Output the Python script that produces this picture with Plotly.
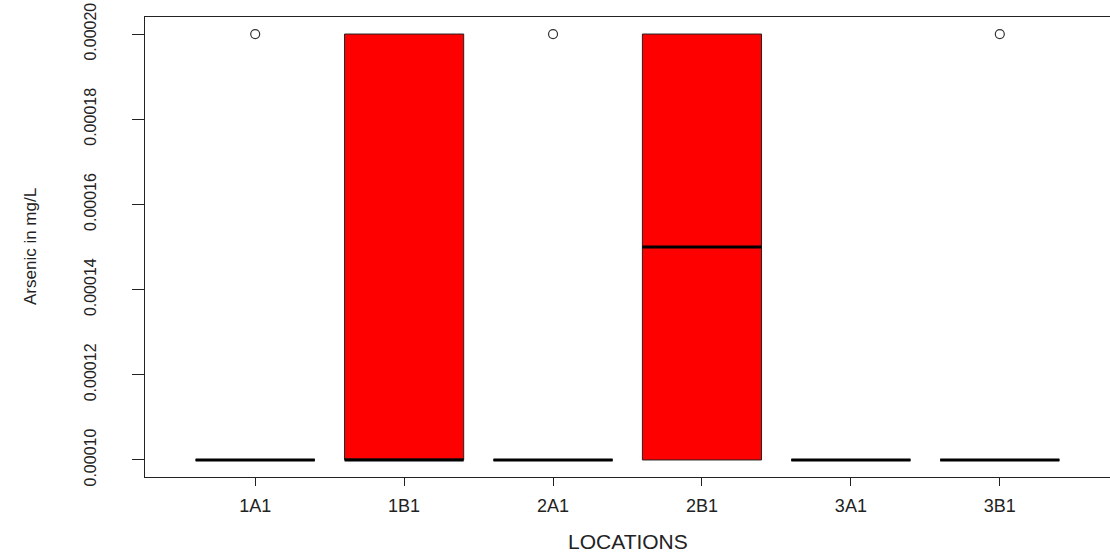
import plotly.graph_objects as go

locations = ["1A1", "1B1", "2A1", "2B1", "3A1", "3B1"]
q1 = [0.0001, 0.0001, 0.0001, 0.0001, 0.0001, 0.0001]
median = [0.0001, 0.0001, 0.0001, 0.00015, 0.0001, 0.0001]
q3 = [0.0001, 0.0002, 0.0001, 0.0002, 0.0001, 0.0001]
lower_whisker = [0.0001, 0.0001, 0.0001, 0.0001, 0.0001, 0.0001]
upper_whisker = [0.0001, 0.0002, 0.0001, 0.0002, 0.0001, 0.0001]
outlier_locations = ["1A1", "2A1", "3B1"]
outlier_values = [0.0002, 0.0002, 0.0002]
y_ticks = [0.00010, 0.00012, 0.00014, 0.00016, 0.00018, 0.00020]

pos = list(range(1, len(locations) + 1))
pos_of = {loc: p for loc, p in zip(locations, pos)}

FONT = "Liberation Sans, Arial, sans-serif"
INK = "#222222"

fig = go.Figure()

# Boxes (thin outline, red fill)
fig.add_trace(go.Box(
    x=pos, q1=q1, median=median, q3=q3,
    lowerfence=lower_whisker, upperfence=upper_whisker,
    width=0.8, whiskerwidth=0,
    fillcolor="#FF0000", line=dict(color=INK, width=1),
    boxpoints=False, showlegend=False, hoverinfo="skip",
))
# Thick median lines (zero-height boxes at the medians)
fig.add_trace(go.Box(
    x=pos, q1=median, median=median, q3=median,
    lowerfence=median, upperfence=median,
    width=0.8, whiskerwidth=0,
    fillcolor="rgba(0,0,0,0)", line=dict(color="#000000", width=3),
    boxpoints=False, showlegend=False, hoverinfo="skip",
))
# Outliers
fig.add_trace(go.Scatter(
    x=[pos_of[l] for l in outlier_locations], y=outlier_values,
    mode="markers",
    marker=dict(symbol="circle-open", size=9, color="#333333", line=dict(width=1.2)),
    showlegend=False, hoverinfo="skip",
))

fig.update_layout(
    width=1110, height=557,
    margin=dict(l=145, r=0, t=17, b=80),
    paper_bgcolor="white", plot_bgcolor="white",
    font=dict(family=FONT, color=INK),
    showlegend=False,
    boxmode="overlay",
    xaxis=dict(
        range=[0.26, 6.74], tickmode="array", tickvals=pos, ticktext=locations,
        showgrid=False, zeroline=False,
        showline=True, linecolor=INK, linewidth=1, mirror=True,
        ticks="outside", ticklen=8, tickcolor=INK, tickwidth=1,
        tickfont=dict(size=18, family=FONT, color=INK),
        ticklabelstandoff=4,
    ),
    yaxis=dict(
        range=[0.000096, 0.000204], tickmode="array", tickvals=y_ticks,
        tickformat=".5f", tickangle=-90,
        showgrid=False, zeroline=False,
        showline=True, linecolor=INK, linewidth=1, mirror=True,
        ticks="outside", ticklen=12, tickcolor=INK, tickwidth=1,
        tickfont=dict(size=16, family=FONT, color=INK),
        ticklabelstandoff=30,
    ),
    annotations=[
        dict(text="LOCATIONS", xref="paper", yref="paper", x=0.5, y=0,
             yshift=-64, xanchor="center", yanchor="middle", showarrow=False,
             font=dict(size=21, family=FONT, color=INK)),
        dict(text="Arsenic in mg/L", xref="paper", yref="paper", x=0, y=0.5,
             xshift=-115, xanchor="center", yanchor="middle", textangle=-90,
             showarrow=False, font=dict(size=17, family=FONT, color=INK)),
    ],
)

fig.write_html("out.html")
